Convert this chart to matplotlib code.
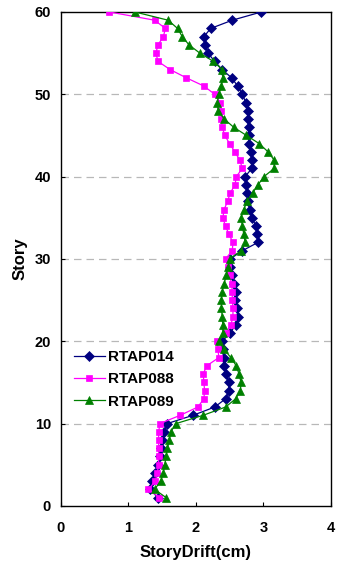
import matplotlib
matplotlib.use("Agg")
import matplotlib.pyplot as plt

plt.rcParams['font.family'] = ['Liberation Sans', 'DejaVu Sans']

stories = list(range(1, 61))

rtap014 = [1.44, 1.32, 1.35, 1.40, 1.44, 1.47, 1.49, 1.50, 1.53, 1.58,
           1.96, 2.28, 2.44, 2.49, 2.49, 2.45, 2.42, 2.41, 2.40, 2.39,
           2.51, 2.59, 2.62, 2.61, 2.58, 2.59, 2.56, 2.53, 2.51, 2.51,
           2.69, 2.92, 2.91, 2.89, 2.83, 2.80, 2.77, 2.76, 2.75, 2.73,
           2.83, 2.83, 2.81, 2.79, 2.78, 2.78, 2.77, 2.77, 2.74, 2.69,
           2.62, 2.53, 2.39, 2.28, 2.18, 2.14, 2.12, 2.22, 2.54, 2.97]

rtap088 = [1.46, 1.30, 1.40, 1.43, 1.45, 1.45, 1.45, 1.45, 1.45, 1.47,
           1.77, 2.03, 2.12, 2.13, 2.12, 2.11, 2.16, 2.34, 2.33, 2.32,
           2.45, 2.52, 2.55, 2.55, 2.54, 2.54, 2.53, 2.50, 2.48, 2.44,
           2.54, 2.55, 2.49, 2.44, 2.40, 2.42, 2.47, 2.51, 2.58, 2.60,
           2.69, 2.65, 2.58, 2.50, 2.43, 2.39, 2.38, 2.38, 2.36, 2.28,
           2.12, 1.86, 1.62, 1.44, 1.41, 1.44, 1.52, 1.55, 1.39, 0.72]

rtap089 = [1.56, 1.39, 1.48, 1.52, 1.54, 1.56, 1.58, 1.61, 1.63, 1.71,
           2.11, 2.44, 2.59, 2.66, 2.67, 2.64, 2.60, 2.52, 2.42, 2.35,
           2.40, 2.40, 2.39, 2.38, 2.38, 2.39, 2.42, 2.45, 2.48, 2.50,
           2.67, 2.73, 2.71, 2.69, 2.67, 2.71, 2.76, 2.84, 2.92, 3.01,
           3.16, 3.16, 3.07, 2.94, 2.75, 2.56, 2.42, 2.33, 2.32, 2.34,
           2.38, 2.40, 2.39, 2.26, 2.06, 1.90, 1.80, 1.73, 1.59, 1.10]

series_names = ['RTAP014', 'RTAP088', 'RTAP089']
x_ticks = [0, 1, 2, 3, 4]
y_ticks = [0, 10, 20, 30, 40, 50, 60]

fig = plt.figure(figsize=(3.37, 5.70), dpi=100)
ax = fig.add_axes([0.180, 0.1126, 0.802, 0.8664])

styles = [
    dict(color='#000080', marker='D', markersize=4.6),
    dict(color='#FF00FF', marker='s', markersize=5.0),
    dict(color='#008000', marker='^', markersize=5.8),
]
for vals, name, st in zip([rtap014, rtap088, rtap089], series_names, styles):
    ax.plot(vals, stories, label=name, linewidth=0.9,
            markeredgewidth=0.5, markeredgecolor=st['color'], **st, zorder=3)

for yv in y_ticks[1:-1]:
    ax.axhline(yv, color='#b8b8b8', linewidth=0.9, dashes=(6, 4), zorder=1)

ax.set_xlim(0, 4)
ax.set_ylim(0, 60)
ax.set_xticks(x_ticks)
ax.set_yticks(y_ticks)
ax.tick_params(direction='in', length=3, width=0.8, labelsize=10.5)
for lbl in ax.get_xticklabels() + ax.get_yticklabels():
    lbl.set_fontweight('bold')
ax.tick_params(axis='x', pad=11)
ax.tick_params(axis='y', pad=7)

for sp in ax.spines.values():
    sp.set_linewidth(1.0)

ax.set_xlabel('StoryDrift(cm)', fontsize=12, fontweight='bold', labelpad=7)
ax.set_ylabel('Story', fontsize=12, fontweight='bold', labelpad=5)

leg = ax.legend(loc='lower left', bbox_to_anchor=(0.01, 0.175), frameon=False,
                fontsize=11, handlelength=2.0, handletextpad=0.25,
                labelspacing=0.55, borderpad=0.2)
for t in leg.get_texts():
    t.set_fontweight('bold')

fig.savefig('out.png', dpi=100)
